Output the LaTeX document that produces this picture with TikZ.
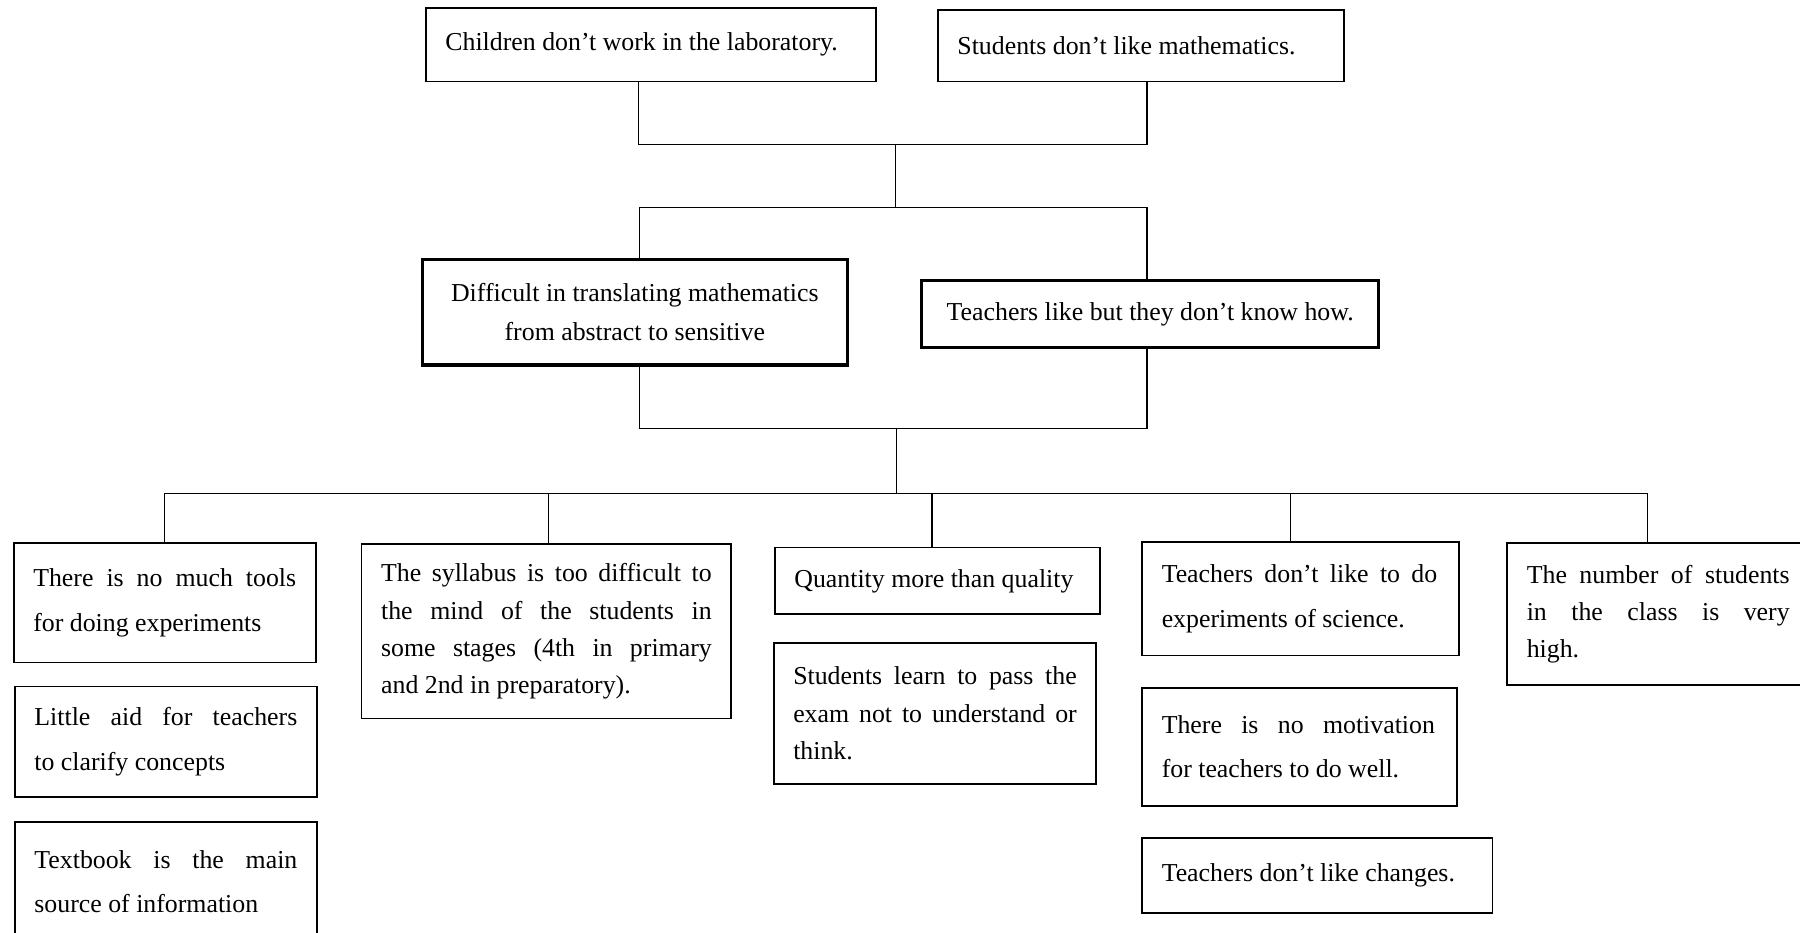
\documentclass[tikz,border=0pt]{standalone}
\usepackage{fontspec}
\setmainfont{Liberation Serif}
% a line spread to a given width (justified line)
\newcommand{\jl}[2]{\makebox[#1pt][s]{\spaceskip=0pt\xspaceskip=0pt #2}}
\begin{document}
\begin{tikzpicture}[x=1pt,y=-1pt,
  box/.style={draw, line width=1.5pt, inner xsep=17pt, inner ysep=0pt,
    align=left, execute at begin node={\setlength{\parindent}{0pt}%
      \spaceskip=\fontdimen2\font\xspaceskip=\fontdimen2\font}},
  loose/.style={font=\fontsize{22.5}{39}\selectfont},
  tight/.style={font=\fontsize{22.5}{32.5}\selectfont},
  mid/.style={font=\fontsize{22.5}{34}\selectfont},
  heavy/.style={line width=2.8pt, align=center},
  link/.style={line width=1.2pt},
  dims/.style n args={3}{minimum width=#1pt, minimum height=#2pt, text width=#3pt},
]
\useasboundingbox (0,0) rectangle (1568,812);
\fill[white] (0,0) rectangle (1568,812);

% top level causes
\node[box, loose, dims={392}{64}{358}] (A) at (567,39) {Children don’t work in the laboratory.};
\node[box, loose, dims={354}{62}{320}] (B) at (994,40) {Students don’t like mathematics.};

% second level
\node[box, mid, heavy, dims={370}{92}{336}] (C) at (553,272)
  {Difficult in translating mathematics\\from abstract to sensitive};
\node[box, mid, heavy, minimum width=398pt, minimum height=59pt] (D) at (1002,273.5)
  {Teachers like but they don’t know how.};

% bottom row, column 1
\node[box, loose, dims={263}{104}{229}] (E) at (143.5,525)
  {\jl{229}{There is no much tools}\\for doing experiments};
\node[box, loose, dims={263}{96}{229}] (E2) at (144.5,646)
  {\jl{229}{Little aid for teachers}\\to clarify concepts};
\node[box, loose, dims={263}{104}{229}] (E3) at (144.5,768)
  {\jl{229}{Textbook is the main}\\source of information};

% column 2
\node[box, tight, dims={322}{152}{288}] (F) at (476,550)
  {\jl{288}{The syllabus is too difficult to}\\\jl{288}{the mind of the students in}\\\jl{288}{some stages (4th in primary}\\and 2nd in preparatory).};

% column 3
\node[box, loose, dims={283}{58}{249}] (G) at (816.5,506) {Quantity more than quality};
\node[box, tight, dims={281}{123}{247}] (G2) at (814.5,621.5)
  {\jl{247}{Students learn to pass the}\\\jl{247}{exam not to understand or}\\think.};

% column 4
\node[box, loose, dims={276}{99}{242}] (H) at (1133,521.5)
  {\jl{240}{Teachers don’t like to do}\\experiments of science.};
\node[box, loose, dims={274}{103}{240}] (H2) at (1132,650.5)
  {\jl{238}{There is no motivation}\\for teachers to do well.};
\node[box, loose, dims={305}{65}{271}] (H3) at (1147.5,762.5) {Teachers don’t like changes.};

% column 5
\node[box, tight, dims={263}{124}{229}] (I) at (1444.5,535)
  {\jl{229}{The number of students}\\\jl{229}{in the class is very}\\high.};

% junctions
\coordinate (j1) at (780,126);
\coordinate (j2) at (780,181);
\coordinate (j3) at (781,373);
\coordinate (j4) at (781,430);
\coordinate (fT) at ([xshift=2pt]F.north);
\coordinate (gT) at ([xshift=-4.5pt]G.north);
\coordinate (hT) at ([xshift=-9pt]H.north);

% connectors
\draw[link] ([xshift=-11pt]A.south) |- (j1) -| ([xshift=5pt]B.south);
\draw[link] (j1) -- (j2);
\draw[link] ([xshift=4pt]C.north) |- (j2) -| ([xshift=-3pt]D.north);
\draw[link] ([xshift=4pt]C.south) |- (j3) -| ([xshift=-3pt]D.south);
\draw[link] (j3) -- (j4);
\draw[link] (E.north) |- (j4) -| ([xshift=-9.5pt]I.north);
\draw[link] (fT) -- (fT |- j4);
\draw[link] (gT) -- (gT |- j4);
\draw[link] (hT) -- (hT |- j4);
\end{tikzpicture}
\end{document}
